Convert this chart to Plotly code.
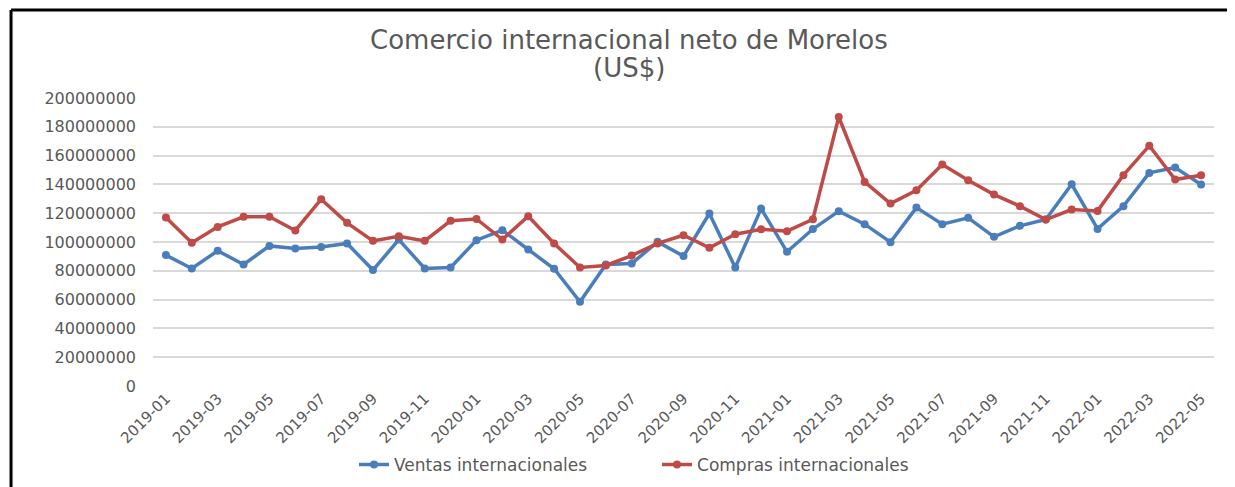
import plotly.graph_objects as go

months = [f"{y}-{m:02d}" for y in (2019, 2020, 2021, 2022) for m in range(1, 13)][:41]

ventas = [90.9, 81.6, 93.9, 84.4, 97.3, 95.5, 96.6, 99.0, 80.5, 101.7,
          81.6, 82.3, 101.3, 108.2, 94.8, 81.4, 58.5, 84.4, 85.1, 100.1,
          90.2, 119.8, 82.3, 123.2, 93.2, 109.0, 121.4, 112.4, 99.9, 123.9,
          112.4, 116.8, 103.6, 111.2, 115.6, 140.1, 109.1, 124.9, 148.0, 151.7,
          139.9]
compras = [117.0, 99.4, 110.5, 117.5, 117.5, 108.0, 129.7, 113.3, 100.8, 104.0,
           100.8, 114.7, 116.0, 101.7, 117.9, 99.0, 82.3, 83.7, 90.6, 99.0,
           104.7, 96.0, 105.4, 108.9, 107.5, 115.8, 186.8, 141.7, 126.7, 135.9,
           153.8, 142.9, 132.9, 124.9, 115.6, 122.5, 121.6, 146.4, 166.9, 143.4,
           146.4]
ventas = [v * 1e6 for v in ventas]
compras = [v * 1e6 for v in compras]

tick_months = months[::2]
y_ticks = list(range(0, 200000001, 20000000))
y_labels = [str(v) for v in y_ticks]
title_lines = ["Comercio internacional neto de Morelos", "(US$)"]

BLUE = "#4A7EBB"
RED = "#BE4B48"
GREY = "#595959"
FONT = "DejaVu Sans, Verdana, sans-serif"

fig = go.Figure()
fig.add_trace(go.Scatter(x=months, y=ventas, name="Ventas internacionales",
                         mode="lines+markers",
                         line=dict(color=BLUE, width=3.5),
                         marker=dict(color=BLUE, size=8)))
fig.add_trace(go.Scatter(x=months, y=compras, name="Compras internacionales",
                         mode="lines+markers",
                         line=dict(color=RED, width=3.5),
                         marker=dict(color=RED, size=8)))

fig.update_layout(
    width=1227, height=479,
    margin=dict(l=145, r=21, t=90, b=101),
    paper_bgcolor="white", plot_bgcolor="white",
    font=dict(family=FONT, color=GREY),
    showlegend=True,
    legend=dict(orientation="h", xref="container", x=0.282, xanchor="left",
                yref="container", y=0.046, yanchor="middle",
                entrywidth=258, entrywidthmode="pixels",
                font=dict(size=17, color=GREY, family=FONT),
                bgcolor="rgba(0,0,0,0)"),
    xaxis=dict(type="category", categoryorder="array", categoryarray=months,
               range=[-0.5, 40.5], automargin=False,
               tickmode="array", tickvals=tick_months, ticktext=tick_months,
               tickangle=-45, tickfont=dict(size=15, color=GREY, family=FONT),
               showgrid=False, showline=False, ticks="", zeroline=False),
    yaxis=dict(range=[0, 200000000], tickmode="array", tickvals=y_ticks,
               ticktext=y_labels, automargin=False,
               tickfont=dict(size=16, color=GREY, family=FONT),
               showgrid=True, gridcolor="#D9D9D9", gridwidth=1.5,
               zeroline=False, showline=False, ticks="", ticklabelstandoff=16),
    annotations=[
        dict(text=title_lines[0], xref="paper", yref="paper", x=0.4486, y=1.2014,
             xanchor="center", yanchor="middle", showarrow=False,
             font=dict(size=26, color=GREY, family=FONT)),
        dict(text=title_lines[1], xref="paper", yref="paper", x=0.4486, y=1.104,
             xanchor="center", yanchor="middle", showarrow=False,
             font=dict(size=26, color=GREY, family=FONT)),
    ],
    shapes=[
        dict(type="line", xref="paper", yref="paper", x0=-0.1338, x1=1.05,
             y0=1.3056, y1=1.3056, line=dict(color="black", width=3)),
        dict(type="line", xref="paper", yref="paper", x0=-0.1338, x1=-0.1338,
             y0=1.3056, y1=-0.36, line=dict(color="black", width=3)),
    ],
)

fig.write_html("out.html")
